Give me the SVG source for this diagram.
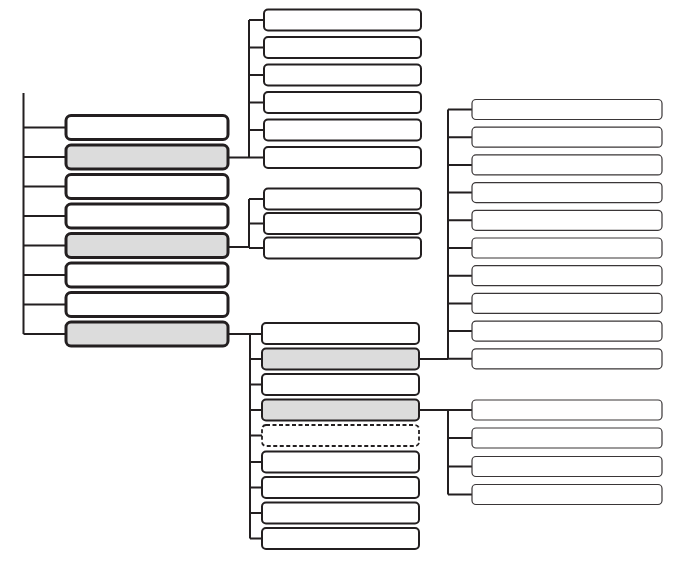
<svg xmlns="http://www.w3.org/2000/svg" width="680" height="586" viewBox="0 0 680 586">
<style>
.bg{fill:#ffffff}
.l1{fill:#ffffff;stroke:#231f20;stroke-width:3}
.l1g{fill:#dcdcdc;stroke:#231f20;stroke-width:3}
.l2{fill:#ffffff;stroke:#231f20;stroke-width:2}
.l2g{fill:#dcdcdc;stroke:#231f20;stroke-width:2}
.l2d{fill:#ffffff;stroke:#231f20;stroke-width:1.8;stroke-dasharray:4 2.5}
.l3{fill:#ffffff;stroke:#3a3637;stroke-width:1.2}
.c{fill:none;stroke:#231f20;stroke-width:2}
</style>
<rect class="bg" x="0" y="0" width="680" height="586"/>
<g id="connectors">
<path class="c" d="M23.5 93V334M23.5 127.5H66M23.5 157H66M23.5 186.5H66M23.5 216H66M23.5 245.5H66M23.5 275H66M23.5 304.5H66M23.5 334H66"/>
<path class="c" d="M228 157.5H249M249 20V157.5M249 20H264M249 47.5H264M249 75H264M249 102.5H264M249 130H264M249 157.5H264"/>
<path class="c" d="M228 247H249M249 199V248M249 199H264M249 223.5H264M249 248H264"/>
<path class="c" d="M228 334H262M250 334V538.5M250 359H262M250 384.5H262M250 410H262M250 435.5H262M250 462H262M250 487.5H262M250 513H262M250 538.5H262"/>
<path class="c" d="M419 359H448M448 109.5V359M448 109.5H472M448 137.2H472M448 164.9H472M448 192.6H472M448 220.3H472M448 248H472M448 275.7H472M448 303.4H472M448 331.1H472M448 358.8H472"/>
<path class="c" d="M419 410H472M448 410V494.5M448 438H472M448 466.5H472M448 494.5H472"/>
</g>
<g id="a1"><rect class="l1" x="66" y="115.5" width="162" height="24" rx="5"/></g>
<g id="a2"><rect class="l1g" x="66" y="145" width="162" height="24" rx="5"/></g>
<g id="a3"><rect class="l1" x="66" y="174.5" width="162" height="24" rx="5"/></g>
<g id="a4"><rect class="l1" x="66" y="204" width="162" height="24" rx="5"/></g>
<g id="a5"><rect class="l1g" x="66" y="233.5" width="162" height="24" rx="5"/></g>
<g id="a6"><rect class="l1" x="66" y="263" width="162" height="24" rx="5"/></g>
<g id="a7"><rect class="l1" x="66" y="292.5" width="162" height="24" rx="5"/></g>
<g id="a8"><rect class="l1g" x="66" y="322" width="162" height="24" rx="5"/></g>
<g id="b1"><rect class="l2" x="264" y="9.5" width="157" height="21" rx="4"/></g>
<g id="b2"><rect class="l2" x="264" y="37" width="157" height="21" rx="4"/></g>
<g id="b3"><rect class="l2" x="264" y="64.5" width="157" height="21" rx="4"/></g>
<g id="b4"><rect class="l2" x="264" y="92" width="157" height="21" rx="4"/></g>
<g id="b5"><rect class="l2" x="264" y="119.5" width="157" height="21" rx="4"/></g>
<g id="b6"><rect class="l2" x="264" y="147" width="157" height="21" rx="4"/></g>
<g id="c1"><rect class="l2" x="264" y="188.5" width="157" height="21" rx="4"/></g>
<g id="c2"><rect class="l2" x="264" y="213" width="157" height="21" rx="4"/></g>
<g id="c3"><rect class="l2" x="264" y="237.5" width="157" height="21" rx="4"/></g>
<g id="d1"><rect class="l2" x="262" y="323" width="157" height="21" rx="4"/></g>
<g id="d2"><rect class="l2g" x="262" y="348.5" width="157" height="21" rx="4"/></g>
<g id="d3"><rect class="l2" x="262" y="374" width="157" height="21" rx="4"/></g>
<g id="d4"><rect class="l2g" x="262" y="399.5" width="157" height="21" rx="4"/></g>
<g id="d5"><rect class="l2d" x="262" y="425" width="157" height="21" rx="4"/></g>
<g id="d6"><rect class="l2" x="262" y="451.5" width="157" height="21" rx="4"/></g>
<g id="d7"><rect class="l2" x="262" y="477" width="157" height="21" rx="4"/></g>
<g id="d8"><rect class="l2" x="262" y="502.5" width="157" height="21" rx="4"/></g>
<g id="d9"><rect class="l2" x="262" y="528" width="157" height="21" rx="4"/></g>
<g id="e1"><rect class="l3" x="472" y="99.5" width="190" height="20" rx="4"/></g>
<g id="e2"><rect class="l3" x="472" y="127.2" width="190" height="20" rx="4"/></g>
<g id="e3"><rect class="l3" x="472" y="154.9" width="190" height="20" rx="4"/></g>
<g id="e4"><rect class="l3" x="472" y="182.6" width="190" height="20" rx="4"/></g>
<g id="e5"><rect class="l3" x="472" y="210.3" width="190" height="20" rx="4"/></g>
<g id="e6"><rect class="l3" x="472" y="238" width="190" height="20" rx="4"/></g>
<g id="e7"><rect class="l3" x="472" y="265.7" width="190" height="20" rx="4"/></g>
<g id="e8"><rect class="l3" x="472" y="293.4" width="190" height="20" rx="4"/></g>
<g id="e9"><rect class="l3" x="472" y="321.1" width="190" height="20" rx="4"/></g>
<g id="e10"><rect class="l3" x="472" y="348.8" width="190" height="20" rx="4"/></g>
<g id="f1"><rect class="l3" x="472" y="400" width="190" height="20" rx="4"/></g>
<g id="f2"><rect class="l3" x="472" y="428" width="190" height="20" rx="4"/></g>
<g id="f3"><rect class="l3" x="472" y="456.5" width="190" height="20" rx="4"/></g>
<g id="f4"><rect class="l3" x="472" y="484.5" width="190" height="20" rx="4"/></g>
</svg>
